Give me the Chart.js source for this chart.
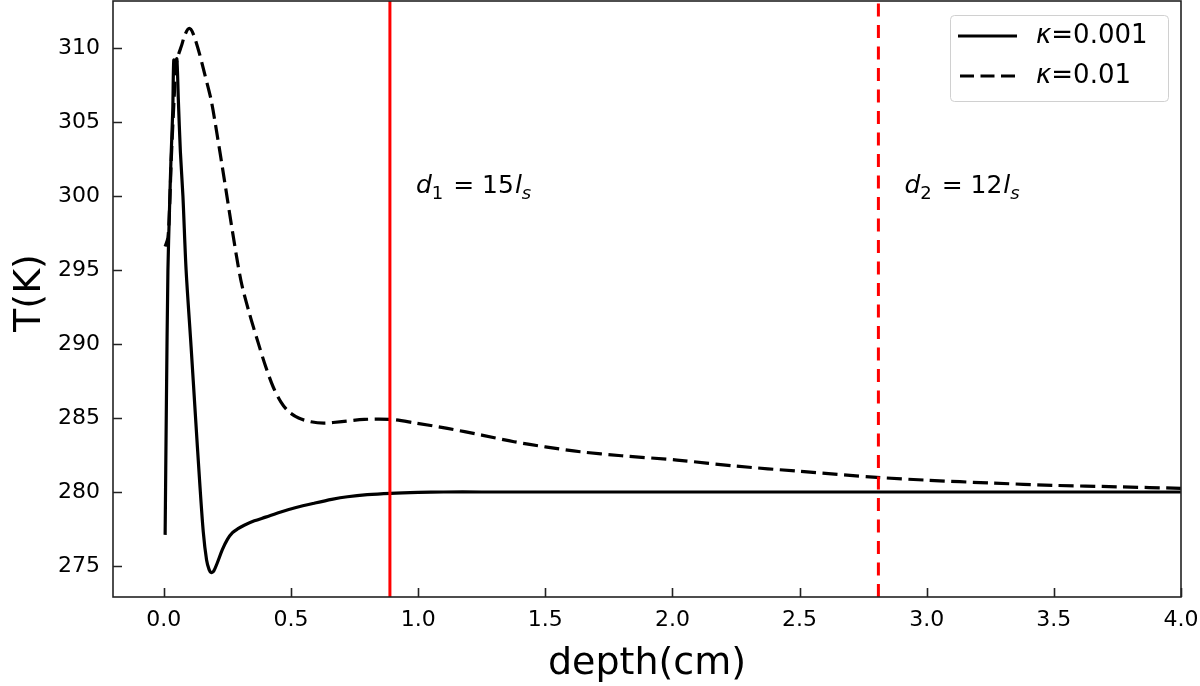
<!DOCTYPE html>
<html>
<head>
<meta charset="utf-8">
<script src="https://cdn.jsdelivr.net/npm/chart.js@4/dist/chart.umd.min.js"></script>
<style>
  body { margin: 0; background: #fff; }
  #wrap { width: 1200px; height: 686px; }
</style>
</head>
<body>
<div id="wrap"><canvas id="chart" width="1200" height="686"></canvas></div>
<script>
// --- chart data ---
const depthSolid = [0.005, 0.010, 0.016, 0.022, 0.028, 0.035, 0.039, 0.045, 0.051, 0.057, 0.065, 0.075, 0.0875, 0.107, 0.124, 0.14, 0.155, 0.168, 0.178, 0.186, 0.196, 0.21, 0.23, 0.25, 0.27, 0.29, 0.316, 0.356, 0.40, 0.46, 0.52, 0.591, 0.66, 0.722, 0.80, 0.892, 1.0, 1.1, 1.25, 1.5, 2.0, 2.5, 3.0, 3.5, 4.0];
const tempSolid  = [277.1, 286.0, 295.0, 299.0, 302.5, 305.8, 309.2, 308.3, 309.3, 306.5, 303.0, 300.0, 295.0, 289.85, 285.2, 280.9, 277.3, 275.4, 274.75, 274.55, 274.65, 275.2, 276.1, 276.8, 277.25, 277.5, 277.75, 278.05, 278.3, 278.65, 278.95, 279.24, 279.5, 279.68, 279.82, 279.91, 279.97, 280.0, 280.0, 280.0, 280.0, 280.0, 280.0, 280.0, 280.0];

const depthDashed = [0.005, 0.016, 0.022, 0.029, 0.04, 0.048, 0.058, 0.068, 0.085, 0.10, 0.115, 0.14, 0.16, 0.186, 0.21, 0.238, 0.27, 0.303, 0.336, 0.369, 0.40, 0.43, 0.46, 0.49, 0.53, 0.578, 0.63, 0.70, 0.788, 0.892, 0.984, 1.115, 1.25, 1.377, 1.5, 1.638, 1.8, 2.018, 2.25, 2.5, 2.803, 3.0, 3.26, 3.5, 3.75, 4.0];
const tempDashed  = [296.6, 297.2, 299.0, 302.4, 306.5, 308.85, 309.6, 310.1, 311.0, 311.35, 311.0, 309.64, 308.3, 306.5, 304.1, 301.1, 297.6, 294.3, 292.1, 290.2, 288.5, 287.1, 286.1, 285.45, 285.0, 284.75, 284.66, 284.76, 284.91, 284.91, 284.68, 284.3, 283.85, 283.4, 283.05, 282.72, 282.45, 282.16, 281.75, 281.4, 280.99, 280.8, 280.6, 280.45, 280.35, 280.25];

const seriesLabels = ['\u03ba=0.001', '\u03ba=0.01'];
const markerDepths = [0.889, 2.81];   // d1, d2
const markerLabels = [['d', '1', ' = 15', 'l', 's'], ['d', '2', ' = 12', 'l', 's']];

const xTicks = [0.0, 0.5, 1.0, 1.5, 2.0, 2.5, 3.0, 3.5, 4.0];
const yTicks = [275, 280, 285, 290, 295, 300, 305, 310];
const xMin = -0.2, xMax = 4.0;
const yMin = 272.9, yMax = 313.2;

const FONT = "'DejaVu Sans', sans-serif";

function toPoints(xs, ys) {
  return xs.map((x, i) => ({ x: x, y: ys[i] }));
}

// frame, inward ticks, axis titles, annotations, legend
const decorPlugin = {
  id: 'decor',
  afterDraw(chart) {
    const ctx = chart.ctx;
    const area = chart.chartArea;
    const sx = chart.scales.x, sy = chart.scales.y;
    ctx.save();

    // frame
    ctx.strokeStyle = '#222';
    ctx.lineWidth = 1.6;
    ctx.strokeRect(area.left, area.top, area.right - area.left, area.bottom - area.top);

    // inward ticks
    ctx.beginPath();
    xTicks.forEach(v => {
      const px = Math.round(sx.getPixelForValue(v)) + 0.5;
      ctx.moveTo(px, area.bottom);
      ctx.lineTo(px, area.bottom - 9);
    });
    yTicks.forEach(v => {
      const py = Math.round(sy.getPixelForValue(v)) + 0.5;
      ctx.moveTo(area.left, py);
      ctx.lineTo(area.left + 9, py);
    });
    ctx.stroke();

    // axis titles
    ctx.fillStyle = '#000';
    ctx.font = '38px ' + FONT;
    ctx.textAlign = 'center';
    ctx.textBaseline = 'middle';
    ctx.fillText('depth(cm)', (area.left + area.right) / 2, 664);
    ctx.save();
    ctx.translate(30, (area.top + area.bottom) / 2 - 6);
    ctx.rotate(-Math.PI / 2);
    ctx.fillText('T(K)', 0, 0);
    ctx.restore();

    // d1 / d2 annotations
    ctx.textAlign = 'left';
    ctx.textBaseline = 'alphabetic';
    markerDepths.forEach((d, i) => {
      const parts = markerLabels[i];
      let x = sx.getPixelForValue(d) + 26;
      const base = 193;
      ctx.font = 'italic 25px ' + FONT;
      ctx.fillText(parts[0], x, base); x += ctx.measureText(parts[0]).width;
      ctx.font = '18px ' + FONT;
      ctx.fillText(parts[1], x, base + 6); x += ctx.measureText(parts[1]).width + 2;
      ctx.font = '25px ' + FONT;
      ctx.fillText(parts[2], x, base); x += ctx.measureText(parts[2]).width + 1;
      ctx.font = 'italic 25px ' + FONT;
      ctx.fillText(parts[3], x, base); x += ctx.measureText(parts[3]).width;
      ctx.font = 'italic 18px ' + FONT;
      ctx.fillText(parts[4], x, base + 6);
    });

    // legend
    const lx = 950, ly = 15, lw = 218, lh = 86;
    ctx.fillStyle = 'rgba(255,255,255,0.85)';
    ctx.strokeStyle = '#d0d0d0';
    ctx.lineWidth = 1;
    ctx.beginPath();
    ctx.roundRect(lx + 0.5, ly + 0.5, lw, lh, 4);
    ctx.fill();
    ctx.stroke();

    ctx.strokeStyle = '#000';
    ctx.lineWidth = 3;
    ctx.setLineDash([]);
    ctx.beginPath();
    ctx.moveTo(958, 36); ctx.lineTo(1017, 36);
    ctx.stroke();
    ctx.setLineDash([14, 6.5]);
    ctx.beginPath();
    ctx.moveTo(960, 76); ctx.lineTo(1017, 76);
    ctx.stroke();
    ctx.setLineDash([]);

    ctx.fillStyle = '#000';
    ctx.textBaseline = 'middle';
    [36, 76].forEach((y, i) => {
      const kappa = seriesLabels[i].charAt(0);
      const rest = seriesLabels[i].slice(1);
      ctx.font = 'italic 26px ' + FONT;
      ctx.fillText(kappa, 1036, y);
      const w = ctx.measureText(kappa).width;
      ctx.font = '26px ' + FONT;
      ctx.fillText(rest, 1036 + w, y);
    });

    ctx.restore();
  }
};

new Chart(document.getElementById('chart'), {
  type: 'scatter',
  data: {
    datasets: [
      {
        label: seriesLabels[0],
        data: toPoints(depthSolid, tempSolid),
        showLine: true,
        borderColor: '#000',
        borderWidth: 3.2,
        pointRadius: 0,
        tension: 0.3,
        order: 2
      },
      {
        label: seriesLabels[1],
        data: toPoints(depthDashed, tempDashed),
        showLine: true,
        borderColor: '#000',
        borderWidth: 3.2,
        borderDash: [15, 6.5],
        pointRadius: 0,
        tension: 0.3,
        order: 1
      },
      {
        label: 'd1',
        data: [{ x: markerDepths[0], y: yMin }, { x: markerDepths[0], y: yMax }],
        showLine: true,
        borderColor: '#ff0000',
        borderWidth: 3,
        pointRadius: 0,
        order: 0
      },
      {
        label: 'd2',
        data: [{ x: markerDepths[1], y: yMin }, { x: markerDepths[1], y: yMax }],
        showLine: true,
        borderColor: '#ff0000',
        borderWidth: 3,
        borderDash: [13, 8.5],
        pointRadius: 0,
        order: 0
      }
    ]
  },
  options: {
    responsive: false,
    animation: false,
    layout: { padding: { top: 1, right: 19, left: 0, bottom: 0 } },
    plugins: { legend: { display: false }, tooltip: { enabled: false } },
    scales: {
      x: {
        type: 'linear',
        min: xMin,
        max: xMax,
        afterBuildTicks: s => { s.ticks = xTicks.map(v => ({ value: v })); },
        afterFit: s => { s.height = 89; s.paddingLeft = 0; s.paddingRight = 0; },
        ticks: {
          callback: v => v.toFixed(1),
          font: { family: FONT, size: 22 },
          color: '#000',
          padding: 10,
          maxRotation: 0,
          autoSkip: false
        },
        grid: { display: false, drawTicks: false },
        border: { display: false }
      },
      y: {
        type: 'linear',
        min: yMin,
        max: yMax,
        afterBuildTicks: s => { s.ticks = yTicks.map(v => ({ value: v })); },
        afterFit: s => { s.width = 113; s.paddingTop = 0; s.paddingBottom = 0; },
        ticks: {
          callback: v => String(v),
          font: { family: FONT, size: 22 },
          color: '#000',
          padding: 13,
          autoSkip: false
        },
        grid: { display: false, drawTicks: false },
        border: { display: false }
      }
    }
  },
  plugins: [decorPlugin]
});
</script>
</body>
</html>
